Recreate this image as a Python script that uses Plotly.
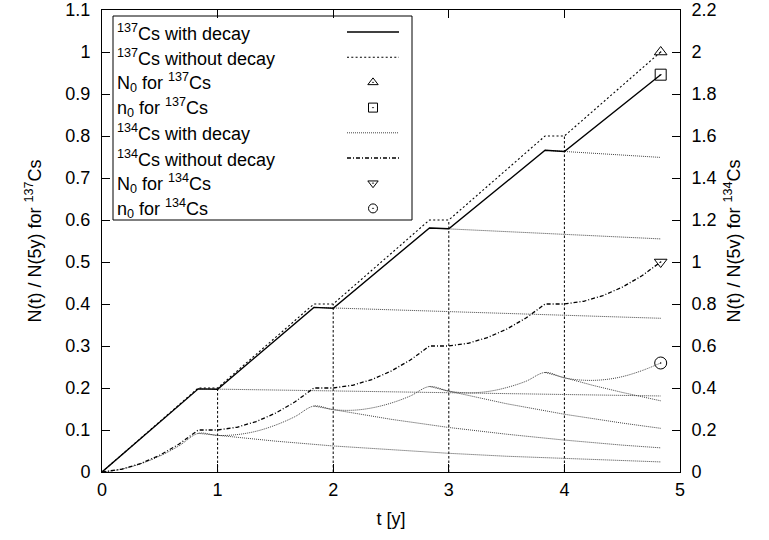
import plotly.graph_objects as go

# ---------------- data ----------------
t137 = [0, 0.833, 1.0, 1.833, 2.0, 2.833, 3.0, 3.833, 4.0, 4.833]
cs137_without = [0, 0.2, 0.2, 0.4, 0.4, 0.6, 0.6, 0.8, 0.8, 1.0]
cs137_with = [0, 0.198, 0.197, 0.392, 0.390, 0.581, 0.579, 0.766, 0.763, 0.946]

t134 = [0, 0.167, 0.333, 0.5, 0.667, 0.833,
        1.0, 1.167, 1.333, 1.5, 1.667, 1.833,
        2.0, 2.167, 2.333, 2.5, 2.667, 2.833,
        3.0, 3.167, 3.333, 3.5, 3.667, 3.833,
        4.0, 4.167, 4.333, 4.5, 4.667, 4.833]
cs134_without = [0, 0.013, 0.04, 0.08, 0.133, 0.2,
                 0.2, 0.213, 0.24, 0.28, 0.333, 0.4,
                 0.4, 0.413, 0.44, 0.48, 0.533, 0.6,
                 0.6, 0.613, 0.64, 0.68, 0.733, 0.8,
                 0.8, 0.813, 0.84, 0.88, 0.933, 1.0]
cs134_with = [0, 0.013, 0.039, 0.076, 0.125, 0.184,
              0.174, 0.178, 0.194, 0.223, 0.263, 0.314,
              0.297, 0.294, 0.305, 0.328, 0.362, 0.407,
              0.385, 0.377, 0.383, 0.402, 0.432, 0.474,
              0.448, 0.437, 0.439, 0.454, 0.482, 0.519]

# decay of the stock after each loading stops (no further additions)
tail137_t = [[0.833, 2.833, 4.833], [1.833, 3.333, 4.833],
             [2.833, 3.833, 4.833], [3.833, 4.833]]
tail137_v = [[0.198, 0.189, 0.181], [0.392, 0.379, 0.366],
             [0.581, 0.568, 0.555], [0.766, 0.749]]

tail134_t = [[0.833, 1.0, 1.5, 2.0, 2.5, 3.0, 3.5, 4.0, 4.5, 4.833],
             [1.833, 2.0, 2.5, 3.0, 3.5, 4.0, 4.5, 4.833],
             [2.833, 3.0, 3.5, 4.0, 4.5, 4.833],
             [3.833, 4.0, 4.25, 4.5, 4.833]]
tail134_v = [[0.184, 0.174, 0.147, 0.124, 0.105, 0.089, 0.075, 0.064, 0.054, 0.048],
             [0.314, 0.297, 0.251, 0.212, 0.180, 0.152, 0.128, 0.115],
             [0.407, 0.385, 0.325, 0.275, 0.233, 0.208],
             [0.474, 0.448, 0.412, 0.379, 0.339]]

refill_t = [1, 2, 3, 4]
refill_top = [0.2, 0.4, 0.6, 0.8]

t_end = 4.833
N0_137 = 1.0
n0_137 = 0.946
N0_134 = 1.0
n0_134 = 0.519

legend_labels = [
    "<sup>137</sup>Cs with decay",
    "<sup>137</sup>Cs without decay",
    "N<sub>0</sub> for <sup>137</sup>Cs",
    "n<sub>0</sub> for <sup>137</sup>Cs",
    "<sup>134</sup>Cs with decay",
    "<sup>134</sup>Cs without decay",
    "N<sub>0</sub> for <sup>134</sup>Cs",
    "n<sub>0</sub> for <sup>134</sup>Cs",
]

# ---------------- styles ----------------
FONT = "Liberation Sans, Arial, Helvetica, sans-serif"
SOLID = dict(color="black", width=1.4, dash="solid")
DOTTED = dict(color="black", width=1.1, dash="2px,2.3px")
FINE = dict(color="#444444", width=1.0, dash="1px,1px")
DASHDOT = dict(color="black", width=1.3, dash="4px,2px,1px,2px")
VLINE = dict(color="black", width=1.0, dash="2.5px,2px")

fig = go.Figure()

# refill vertical markers
for tx, top in zip(refill_t, refill_top):
    fig.add_trace(go.Scatter(x=[tx, tx], y=[0, top], mode="lines", line=VLINE,
                             showlegend=False, hoverinfo="skip"))

# decay tails
for tt, vv in zip(tail137_t, tail137_v):
    fig.add_trace(go.Scatter(x=tt, y=vv, mode="lines", line=FINE,
                             showlegend=False, hoverinfo="skip"))
for tt, vv in zip(tail134_t, tail134_v):
    fig.add_trace(go.Scatter(x=tt, y=vv, mode="lines", line=FINE, yaxis="y2",
                             showlegend=False, hoverinfo="skip"))

# main curves
fig.add_trace(go.Scatter(x=t137, y=cs137_with, mode="lines", line=SOLID, showlegend=False))
fig.add_trace(go.Scatter(x=t137, y=cs137_without, mode="lines", line=DOTTED, showlegend=False))
fig.add_trace(go.Scatter(x=t134, y=cs134_with, mode="lines", line=FINE, yaxis="y2",
                         line_shape="spline", showlegend=False))
fig.add_trace(go.Scatter(x=t134, y=cs134_without, mode="lines", line=DASHDOT, yaxis="y2",
                         showlegend=False))

MK = dict(color="black", size=11, line=dict(width=1, color="black"))
fig.add_trace(go.Scatter(x=[t_end], y=[N0_137], mode="markers",
                         marker=dict(MK, symbol="triangle-up-open-dot"), showlegend=False))
fig.add_trace(go.Scatter(x=[t_end], y=[n0_137], mode="markers",
                         marker=dict(MK, symbol="square-open-dot"), showlegend=False))
fig.add_trace(go.Scatter(x=[t_end], y=[N0_134], mode="markers", yaxis="y2",
                         marker=dict(MK, symbol="triangle-down-open-dot"), showlegend=False))
fig.add_trace(go.Scatter(x=[t_end], y=[n0_134], mode="markers", yaxis="y2",
                         marker=dict(MK, symbol="circle-open-dot", size=12), showlegend=False))

# ---------------- page geometry ----------------
W, H = 769, 540
PL, PR, PT, PB = 102, 680, 10, 472   # plot area in pixels

# ---------------- hand-built gnuplot-style key ----------------
key_styles = [("line", SOLID), ("line", DOTTED), ("mark", "triangle-up-open-dot"),
              ("mark", "square-open-dot"), ("line", FINE), ("line", DASHDOT),
              ("mark", "triangle-down-open-dot"), ("mark", "circle-open-dot")]
row0, drow = 32, 25.2
shapes = [dict(type="rect", xref="x3", yref="y3", x0=113, x1=412, y0=16, y1=220,
               line=dict(color="black", width=1), fillcolor="white", layer="below")]
annotations = []
kx, ky = [], []
ksym = []
for i, (lab, (kind, st)) in enumerate(zip(legend_labels, key_styles)):
    yy = row0 + i * drow
    annotations.append(dict(xref="x3", yref="y3", x=115, y=yy, text=lab, showarrow=False,
                            xanchor="left", yanchor="middle",
                            font=dict(family=FONT, size=18, color="black")))
    if kind == "line":
        shapes.append(dict(type="line", xref="x3", yref="y3", x0=347, x1=399, y0=yy, y1=yy,
                           line=st))
    else:
        kx.append(373)
        ky.append(yy)
        ksym.append(st)
fig.add_trace(go.Scatter(x=kx, y=ky, mode="markers", xaxis="x3", yaxis="y3",
                         marker=dict(symbol=ksym, size=9, color="black",
                                     line=dict(width=1, color="black")),
                         showlegend=False, hoverinfo="skip"))

axis_common = dict(showline=True, linecolor="black", linewidth=1, ticks="inside",
                   ticklen=8, tickwidth=1, tickcolor="black", showgrid=False,
                   zeroline=False, ticklabeloverflow="allow",
                   tickfont=dict(family=FONT, size=18, color="black"))

fig.update_layout(
    width=W, height=H,
    margin=dict(l=PL, r=W - PR, t=PT, b=H - PB, autoexpand=False),
    paper_bgcolor="white", plot_bgcolor="white",
    showlegend=False,
    font=dict(family=FONT, size=18, color="black"),
    xaxis=dict(axis_common, range=[0, 5], dtick=1, mirror="ticks",
               title=dict(text="t [y]", standoff=13, font=dict(family=FONT, size=18)),
               ticklabelstandoff=1),
    yaxis=dict(axis_common, range=[0, 1.1], dtick=0.1,
               title=dict(text="N(t) / N(5y) for <sup>137</sup>Cs", standoff=19,
                          font=dict(family=FONT, size=18)),
               ticklabelstandoff=7),
    yaxis2=dict(axis_common, range=[0, 2.2], dtick=0.2, overlaying="y", side="right",
                anchor="x",
                title=dict(text="N(t) / N(5v) for <sup>134</sup>Cs", standoff=11,
                           font=dict(family=FONT, size=18)),
                ticklabelstandoff=7),
    xaxis3=dict(range=[PL, PR], visible=False, overlaying="x", anchor="y3", fixedrange=True),
    yaxis3=dict(range=[PB, PT], visible=False, overlaying="y", anchor="x3", fixedrange=True),
    shapes=shapes,
    annotations=annotations,
)

# remove the browser's default 8px body margin so the figure fills the window exactly
fig.write_html("out.html", config={"displayModeBar": False},
               post_script="document.body.style.margin='0';document.body.style.overflow='hidden';")
